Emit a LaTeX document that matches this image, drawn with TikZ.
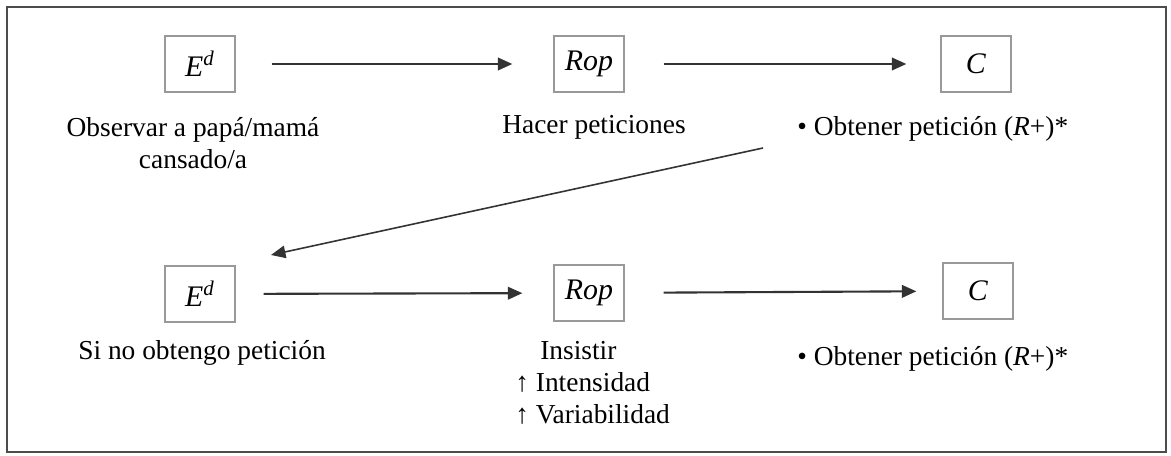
\documentclass[tikz,border=0pt]{standalone}
\usepackage{fontspec}
\setmainfont{Liberation Serif}
\usetikzlibrary{arrows.meta}

\begin{document}
\begin{tikzpicture}[
        x=0.02cm, y=-0.02cm,
        every node/.style={font=\fontsize{15.6}{18.2}\selectfont},
        varbox/.style={rectangle, draw=black!40, line width=0.7pt, minimum width=1.4cm, minimum height=1.12cm, inner sep=0pt, font=\fontsize{17}{20}\selectfont},
        lbl/.style={align=center, inner sep=0pt},
        arrow/.style={line width=1.2pt, draw=black!80, -{Triangle[length=0.29cm, width=0.25cm]}},
        ]
        \useasboundingbox (0,0) rectangle (1171,456);
        \draw[black!70, line width=1.1pt] (7,7) rectangle (1166,452);

        % First sequence
        \node[varbox] (ed1) at (200,64) {\textit{E}\textsuperscript{\textit{d}}};
        \node[varbox] (rop1) at (589,64) {\textit{Rop}};
        \node[varbox] (c1) at (976,64) {\textit{C}};

        \node[lbl] (ed1lbl) at (193,143) {Observar a papá/mamá\\cansado/a};
        \node[lbl] (rop1lbl) at (594,127) {Hacer peticiones};
        \node[lbl, anchor=west] (c1lbl) at (797,129) {• Obtener petición (\textit{R}+)*};

        \draw[arrow, shorten <=0.72cm, shorten >=0.82cm] (ed1) -- (rop1);
        \draw[arrow, shorten <=0.78cm, shorten >=0.68cm] (rop1) -- (c1);

        % Back to the start when no request is obtained
        \coordinate (backstart) at (763,148);
        \coordinate (backend) at (271,255);
        \draw[arrow, line width=0.9pt] (backstart) -- (backend);

        % Second sequence
        \node[varbox] (ed2) at (200,294) {\textit{E}\textsuperscript{\textit{d}}};
        \node[varbox] (rop2) at (589,293) {\textit{Rop}};
        \node[varbox] (c2) at (978,291) {\textit{C}};

        \node[lbl] (ed2lbl) at (202,353) {Si no obtengo petición};
        \node[lbl, align=left, anchor=north west] (rop2lbl) at (515,341)
            {\hspace*{0.5cm}Insistir\\↑ Intensidad\\↑ Variabilidad};
        \node[lbl, anchor=west] (c2lbl) at (797,359) {• Obtener petición (\textit{R}+)*};

        \draw[arrow, shorten <=0.56cm, shorten >=0.62cm] (ed2) -- (rop2);
        \draw[arrow, shorten <=0.78cm, shorten >=0.52cm] (rop2) -- (c2);

    \end{tikzpicture}
\end{document}
